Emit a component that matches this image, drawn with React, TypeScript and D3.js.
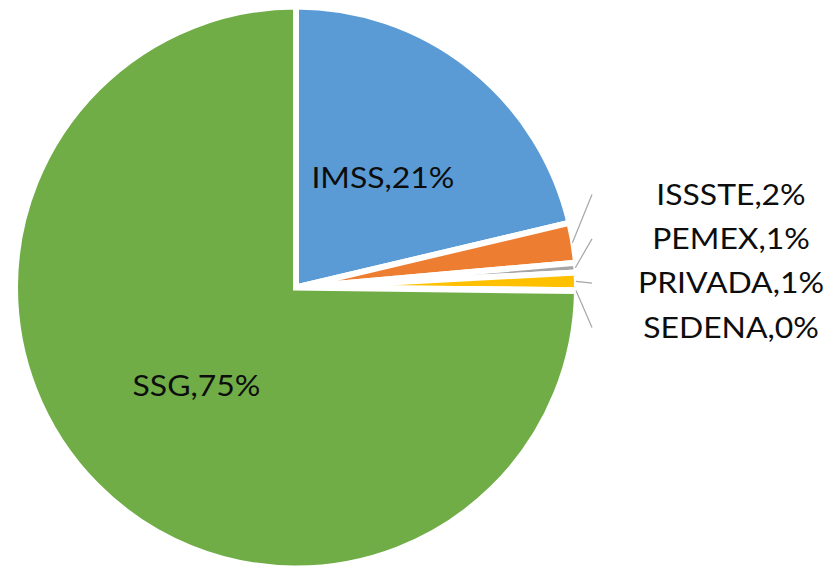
import React, { useEffect, useRef } from "react";
import * as d3 from "d3";

// share of cases by institution (percent)
const categories = ["IMSS", "ISSSTE", "PEMEX", "PRIVADA", "SEDENA", "SSG"];
const values = [21.3, 2.3, 0.55, 1.0, 0.05, 74.8];
const colors = ["#5B9BD5", "#ED7D31", "#A5A5A5", "#FFC000", "#4472C4", "#70AD47"];

const App = () => {
  const ref = useRef<SVGSVGElement>(null);

  useEffect(() => {
    draw();
  });

  let draw = () => {
    let width = 830;
    let height = 567;
    let cx = 296;
    let cy = 287.5;
    let radius = 281;
    let font = "Lato, 'Open Sans', sans-serif";

    let root = d3.select(ref.current);
    root.selectAll("*").remove();
    root.attr("width", width).attr("height", height);

    let data = categories.map((c, i) => ({ name: c, value: values[i], color: colors[i] }));
    let total = d3.sum(values);

    let pie = d3
      .pie<any>()
      .sort(null)
      .value((d: any) => d.value);
    let arcs = pie(data);

    let arc = d3.arc<any>().innerRadius(0).outerRadius(radius);
    let labelArc = d3.arc<any>().innerRadius(140).outerRadius(140);

    let g = root.append("g").attr("transform", `translate(${cx}, ${cy})`);

    g.selectAll("path.slice")
      .data(arcs)
      .enter()
      .append("path")
      .attr("class", "slice")
      .attr("d", arc)
      .attr("fill", (d: any) => d.data.color)
      .attr("stroke", "#fff")
      .attr("stroke-width", 6)
      .attr("stroke-linejoin", "miter");

    let label = (d: any) => `${d.data.name},${Math.round((d.data.value / total) * 100)}%`;

    let big = arcs.filter((d: any) => d.data.value / total >= 0.05);
    let small = arcs.filter((d: any) => d.data.value / total < 0.05);

    g.selectAll("text.inside")
      .data(big)
      .enter()
      .append("text")
      .attr("class", "inside")
      .attr("transform", (d: any) => {
        let [x, y] = labelArc.centroid(d);
        return `translate(${x}, ${y}) scale(1.1, 1)`;
      })
      .attr("text-anchor", "middle")
      .attr("dy", "0.35em")
      .attr("font-family", font)
      .attr("font-size", 29)
      .attr("fill", "#0d0d0d")
      .text(label);

    // outside labels stacked in a column to the right
    let yLabel = d3
      .scalePoint<string>()
      .domain(small.map((d: any) => d.data.name))
      .range([194.5 - cy, 327.5 - cy]);
    let labelX = 731 - cx;
    let lineEnd = 592 - cx;

    let out = g.selectAll("g.outside").data(small).enter().append("g").attr("class", "outside");

    out
      .append("line")
      .attr("x1", (d: any) => Math.sin((d.startAngle + d.endAngle) / 2) * (radius - 1))
      .attr("y1", (d: any) => -Math.cos((d.startAngle + d.endAngle) / 2) * (radius - 1))
      .attr("x2", lineEnd)
      .attr("y2", (d: any) => yLabel(d.data.name) as number)
      .attr("stroke", "#A6A6A6")
      .attr("stroke-width", 1.2);

    out
      .append("text")
      .attr("transform", (d: any) => `translate(${labelX}, ${yLabel(d.data.name)}) scale(1.1, 1)`)
      .attr("text-anchor", "middle")
      .attr("dy", "0.35em")
      .attr("font-family", font)
      .attr("font-size", 29)
      .attr("fill", "#0d0d0d")
      .text(label);
  };

  return (
    <div style={{ position: "absolute", left: 0, top: 0 }}>
      <svg ref={ref} style={{ display: "block" }}></svg>
    </div>
  );
};

export default App;
